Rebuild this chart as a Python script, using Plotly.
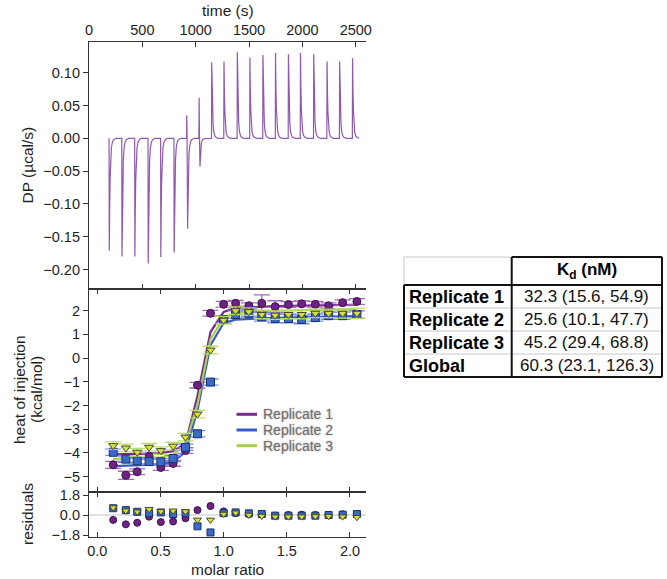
import plotly.graph_objects as go

# ---------------- data ----------------
# thermogram (top panel)
inj_time = [188, 307, 428, 553, 671, 796, 914, 1030, 1148, 1263,
            1388, 1506, 1628, 1746, 1867, 1980, 2104, 2229, 2347, 2468]
dp_pos_peak = [0, 0, 0, 0, 0, 0, 0.035, 0.062, 0.116, 0.117,
               0.131, 0.123, 0.127, 0.130, 0.128, 0.130, 0.128, 0.117, 0.117, 0.122]
dp_neg_peak = [-0.171, -0.180, -0.180, -0.191, -0.181, -0.174, -0.138, -0.043, 0, 0,
               0, 0, 0, 0, 0, 0, 0, 0, 0, 0]
# shape of one injection peak (seconds after injection, fraction of peak height)
peak_dt = [0, 2, 6, 10, 15, 22, 32, 45, 65]
peak_frac = [0, 1.0, 0.6, 0.35, 0.18, 0.08, 0.03, 0.01, 0.0]

# isotherm (middle + bottom panels)
molar_ratio = [0.126, 0.226, 0.316, 0.41, 0.503, 0.6, 0.698, 0.793, 0.896, 1.0,
               1.095, 1.2, 1.302, 1.408, 1.513, 1.618, 1.726, 1.831, 1.942, 2.055]
rep1_heat = [-4.5, -4.94, -4.79, -4.14, -4.61, -4.44, -3.9, -1.14, 1.89, 2.27,
             2.31, 2.21, 2.31, 2.17, 2.26, 2.29, 2.27, 2.21, 2.34, 2.39]
rep2_heat = [-3.97, -4.26, -4.33, -4.36, -4.37, -4.23, -3.76, -3.19, -1.01, 1.63,
             1.84, 1.89, 1.74, 1.67, 1.67, 1.63, 1.71, 1.79, 1.79, 1.84]
rep3_heat = [-3.69, -3.79, -3.97, -3.76, -3.9, -3.71, -3.33, -2.36, 0.34, 1.6,
             2.0, 1.96, 1.84, 1.81, 1.84, 1.84, 1.89, 1.89, 1.89, 1.89]
rep1_err = [0.15, 0.17, 0.12, 0.12, 0.12, 0.12, 0.12, 0.12, 0.12, 0.12,
            0.12, 0.12, 0.36, 0.25, 0.12, 0.12, 0.12, 0.12, 0.12, 0.12]
rep2_err = [0.13, 0.13, 0.13, 0.13, 0.13, 0.13, 0.13, 0.13, 0.13, 0.15,
            0.15, 0.15, 0.18, 0.18, 0.18, 0.18, 0.15, 0.15, 0.15, 0.15]
rep3_err = [0.16, 0.16, 0.16, 0.16, 0.16, 0.16, 0.16, 0.16, 0.16, 0.16,
            0.16, 0.16, 0.18, 0.18, 0.18, 0.18, 0.18, 0.18, 0.2, 0.22]
rep1_fit = [-4.06, -4.06, -4.05, -4.03, -4.0, -3.92, -3.6, -1.6, 1.1, 1.95,
            2.12, 2.15, 2.17, 2.19, 2.2, 2.21, 2.22, 2.23, 2.24, 2.25]
rep2_fit = [-4.55, -4.54, -4.52, -4.5, -4.47, -4.38, -3.95, -2.2, 0.55, 1.48,
            1.62, 1.66, 1.68, 1.7, 1.72, 1.73, 1.74, 1.75, 1.76, 1.77]
rep3_fit = [-4.25, -4.24, -4.23, -4.21, -4.18, -4.08, -3.65, -1.95, 0.8, 1.7,
            1.9, 1.96, 1.98, 2.0, 2.01, 2.02, 2.03, 2.04, 2.05, 2.06]
rep1_res = [-0.44, -0.84, -0.70, -0.15, -0.64, -0.58, -0.29, 0.44, 0.81, 0.32,
            0.17, 0.09, 0.09, -0.06, 0.0, 0.03, 0.0, 0.0, 0.06, 0.09]
rep2_res = [0.61, 0.44, 0.29, 0.17, 0.23, 0.09, 0.17, -1.02, -1.57, 0.17,
            0.23, 0.15, 0.09, -0.06, -0.06, -0.06, -0.06, 0.0, 0.03, 0.09]
rep3_res = [0.67, 0.38, 0.29, 0.52, 0.32, 0.38, 0.32, -0.44, -0.44, 0.09,
            0.2, 0.0, -0.09, -0.15, -0.15, -0.15, -0.12, -0.12, -0.15, -0.2]

series_names = ["Replicate 1", "Replicate 2", "Replicate 3"]

# table
table_rows = ["Replicate 1", "Replicate 2", "Replicate 3", "Global"]
table_kd = ["32.3 (15.6, 54.9)", "25.6 (10.1, 47.7)", "45.2 (29.4, 68.8)", "60.3 (23.1, 126.3)"]
table_header = "K<sub>d</sub> (nM)"

# tick values
time_ticks = [0, 500, 1000, 1500, 2000, 2500]
dp_ticks = [-0.20, -0.15, -0.10, -0.05, 0.00, 0.05, 0.10]
heat_ticks = [-5, -4, -3, -2, -1, 0, 1, 2]
res_ticks = [-1.8, 0.0, 1.8]
molar_ticks = [0.0, 0.5, 1.0, 1.5, 2.0]

# ---------------- styles ----------------
FONT = "Liberation Sans, Arial, Helvetica, sans-serif"
TXT = "#1e1e1e"
AX = "#333333"
THERMO = "#9059ad"
line_colors = ["#7a2a8c", "#3b5cc6", "#a7d04e"]
marker_fill = ["#6e2382", "#3a6bc4", "#d2e03c"]
marker_edge = ["#3d1050", "#1d2f70", "#4a4a1a"]
err_colors = ["#a26ab8", "#7390da", "#b9dc6c"]
symbols = ["circle", "square", "triangle-down"]

W, H = 667, 579
ML, MR, MT, MB = 89, 301, 42, 42
PW = W - ML - MR
PH = H - MT - MB


def px(x):
    return (x - ML) / PW


def py(y):
    return (H - MB - y) / PH


# ---------------- build thermogram trace ----------------
t_trace, dp_trace = [], []
for t0, pos, neg in zip(inj_time, dp_pos_peak, dp_neg_peak):
    if neg == 0:
        pts = [(t0 + d, pos * f) for d, f in zip(peak_dt, peak_frac)]
    elif pos == 0:
        pts = [(t0 + d, neg * f) for d, f in zip(peak_dt, peak_frac)]
    else:
        lag = 8
        pts = [(t0, 0), (t0 + 2, pos), (t0 + 5, pos * 0.15)]
        pts += [(t0 + lag + d, neg * f) for d, f in zip(peak_dt[1:], peak_frac[1:])]
    for a, b in pts:
        t_trace.append(a)
        dp_trace.append(b)

fig = go.Figure()
fig.add_trace(go.Scatter(x=t_trace, y=dp_trace, mode="lines",
                         line=dict(color=THERMO, width=1.2),
                         xaxis="x", yaxis="y", showlegend=False, hoverinfo="skip"))

heats = [rep1_heat, rep2_heat, rep3_heat]
errs = [rep1_err, rep2_err, rep3_err]
fits = [rep1_fit, rep2_fit, rep3_fit]
ress = [rep1_res, rep2_res, rep3_res]

for i in range(3):
    fig.add_trace(go.Scatter(x=molar_ratio, y=fits[i], mode="lines",
                             line=dict(color=line_colors[i], width=2.2),
                             xaxis="x2", yaxis="y2", showlegend=False, name=series_names[i]))
for i in range(3):
    fig.add_trace(go.Scatter(x=molar_ratio, y=heats[i], mode="markers",
                             marker=dict(symbol=symbols[i], size=8, color=marker_fill[i],
                                         line=dict(color=marker_edge[i], width=1)),
                             error_y=dict(type="data", array=errs[i], color=err_colors[i],
                                          thickness=1.3, width=8),
                             xaxis="x2", yaxis="y2", showlegend=False, name=series_names[i]))
for i in range(3):
    fig.add_trace(go.Scatter(x=molar_ratio, y=ress[i], mode="markers",
                             marker=dict(symbol=symbols[i], size=7, color=marker_fill[i],
                                         line=dict(color=marker_edge[i], width=1)),
                             xaxis="x3", yaxis="y3", showlegend=False, name=series_names[i]))

tickfont = dict(family=FONT, size=14.5, color=TXT)
common = dict(showline=True, linecolor=AX, linewidth=1.2, showgrid=False, zeroline=False,
              tickcolor=AX, ticklen=5, tickwidth=1.1, tickfont=tickfont)

d_res = [0, py(492)]
d_mid = [py(492), py(289)]
d_top = [py(289), 1]

dp_range = [-0.2297, 0.1468]
heat_range = [-5.645, 2.915]
res_range = [-1.98, 2.07]
molar_range = [-0.0657, 2.127]

fig.update_layout(
    width=W, height=H, autosize=False,
    margin=dict(l=ML, r=MR, t=MT, b=MB),
    paper_bgcolor="white", plot_bgcolor="white",
    font=dict(family=FONT, color=TXT),
    showlegend=False,
    xaxis=dict(domain=[0, 1], anchor="y", side="top", range=[0, 2596],
               tickvals=time_ticks, ticks="inside", mirror="ticks", **common),
    yaxis=dict(domain=d_top, anchor="x", range=dp_range, tickvals=dp_ticks,
               tickformat=".2f", ticks="outside", **common),
    xaxis2=dict(domain=[0, 1], anchor="y2", range=molar_range, tickvals=molar_ticks,
                ticks="inside", mirror="ticks", showticklabels=False, **common),
    yaxis2=dict(domain=d_mid, anchor="x2", range=heat_range, tickvals=heat_ticks,
                ticks="outside", **common),
    xaxis3=dict(domain=[0, 1], anchor="y3", range=molar_range, tickvals=molar_ticks,
                tickformat=".1f", ticks="inside", mirror="ticks", matches="x2", **common),
    yaxis3=dict(domain=d_res, anchor="x3", range=res_range, tickvals=res_ticks,
                tickformat=".1f", ticks="outside", **common),
)
# light zero line in residual panel
fig.update_yaxes(selector=dict(anchor="x3"), zeroline=True, zerolinecolor="#e2e2e2", zerolinewidth=2)

# right-hand axes with inward ticks
fig.update_layout(
    yaxis4=dict(overlaying="y", anchor="x", side="right", range=dp_range, tickvals=dp_ticks,
                ticks="inside", showticklabels=False, **common),
    yaxis5=dict(overlaying="y2", anchor="x2", side="right", range=heat_range, tickvals=heat_ticks,
                ticks="inside", showticklabels=False, **common),
    yaxis6=dict(overlaying="y3", anchor="x3", side="right", range=res_range, tickvals=res_ticks,
                ticks="inside", showticklabels=False, **common),
)

ann = []
shapes = []
title_font = dict(family=FONT, size=15.5, color=TXT)


def add_text(x, y, text, font, xanchor="center", yanchor="middle", angle=0):
    ann.append(dict(x=px(x), y=py(y), xref="paper", yref="paper", text=text, showarrow=False,
                    xanchor=xanchor, yanchor=yanchor, textangle=angle, font=font))


# axis titles
add_text(227.5, 10, "time (s)", title_font)
add_text(227.5, 569, "molar ratio", title_font)
add_text(27, 165.5, "DP (µcal/s)", title_font, angle=-90)
add_text(19, 390, "heat of injection", title_font, angle=-90)
add_text(36, 390, "(kcal/mol)", title_font, angle=-90)
add_text(27, 514, "residuals", title_font, angle=-90)

# legend
leg_font = dict(family=FONT, size=14, color="#6f6f6f", shadow="0px 0px 2px rgba(0,0,0,0.35)")
leg_y = [414.3, 430, 445.7]
for i in range(3):
    shapes.append(dict(type="line", xref="paper", yref="paper",
                       x0=px(236.5), x1=px(257), y0=py(leg_y[i]), y1=py(leg_y[i]),
                       line=dict(color=line_colors[i], width=3)))
    add_text(261, leg_y[i], series_names[i], leg_font, xanchor="left")

# table
tx0, txs, tx1 = 404, 511.7, 662
ty0, tyh, row_h = 257, 285, 23
ty1 = tyh + row_h * len(table_rows)
thin = dict(color="#c8c8c8", width=1)
thick = dict(color="#111111", width=2)


def seg(x0, y0, x1, y1, line):
    shapes.append(dict(type="line", xref="paper", yref="paper",
                       x0=px(x0), y0=py(y0), x1=px(x1), y1=py(y1), line=line))


seg(tx0, ty0, txs, ty0, thin)
seg(tx0, ty0, tx0, tyh, thin)
for k in range(1, len(table_rows)):
    seg(tx0, tyh + k * row_h, tx1, tyh + k * row_h, thin)
seg(txs, ty0, tx1, ty0, thick)
seg(tx1, ty0, tx1, ty1, thick)
seg(txs, ty0, txs, ty1, thick)
seg(tx0, tyh, tx1, tyh, thick)
seg(tx0, tyh, tx0, ty1, thick)
seg(tx0, ty1, tx1, ty1, thick)

val_font = dict(family=FONT, size=17, color="#111111")
add_text((txs + tx1) / 2, (ty0 + tyh) / 2, "<b>" + table_header + "</b>",
         dict(family=FONT, size=17, color="#000000"))
for k, (lab, val) in enumerate(zip(table_rows, table_kd)):
    yc = tyh + row_h * (k + 0.5)
    add_text(tx0 + 3, yc, "<b>" + lab + "</b>", dict(family=FONT, size=18, color="#000000"),
             xanchor="left")
    add_text((txs + tx1) / 2, yc, val, val_font)

fig.update_layout(annotations=ann, shapes=shapes)
fig.write_html("out.html")
